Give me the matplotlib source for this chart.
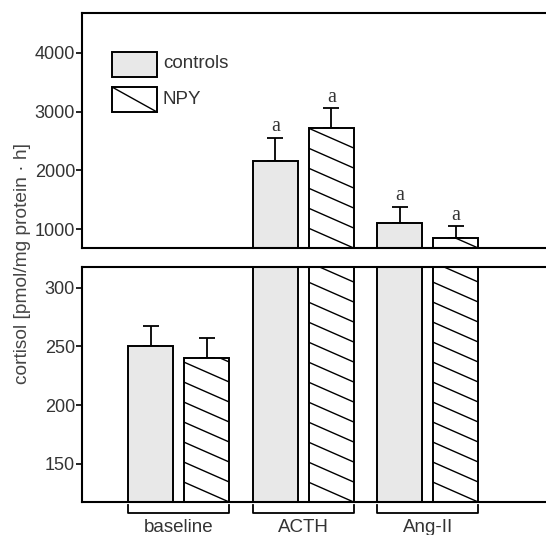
import matplotlib

matplotlib.use("Agg")

import matplotlib.pyplot as plt
import numpy as np
from matplotlib.patches import Rectangle
from matplotlib.lines import Line2D
from matplotlib.transforms import Bbox, IdentityTransform

GROUPS = ["baseline", "ACTH", "Ang-II"]
SERIES = ["controls", "NPY"]
MEAN_CONTROLS = [250, 2160, 1110]
ERR_CONTROLS = [17, 400, 270]
MEAN_NPY = [240, 2715, 850]
ERR_NPY = [17, 345, 200]
SIG_CONTROLS = ["", "a", "a"]
SIG_NPY = ["", "a", "a"]
UPPER_TICKS = [1000, 2000, 3000, 4000]
LOWER_TICKS = [150, 200, 250, 300]

DPI = 100
W, H = 546, 535
FILL = "#e8e8e8"
TXT = "#333333"

plt.rcParams.update({
    "font.family": ["Liberation Sans", "DejaVu Sans"],
    "font.size": 13,
    "axes.linewidth": 1.5,
})

fig = plt.figure(figsize=(W / DPI, H / DPI), dpi=DPI)
ax_up = fig.add_axes([82 / W, (H - 248) / H, (W - 82) / W, (248 - 13) / H])
ax_lo = fig.add_axes([82 / W, (H - 502) / H, (W - 82) / W, (502 - 267) / H])

x = np.arange(len(GROUPS))
off, width = 0.225, 0.36
xlim = (-0.777, 2.95)

ax_up.set_ylim(680, 4680)
ax_lo.set_ylim(117.6, 317.6)

bars = []
for ax in (ax_up, ax_lo):
    ax.set_xlim(*xlim)
    ax.bar(x - off, MEAN_CONTROLS, width, color=FILL, edgecolor="black", linewidth=1.4, zorder=2)
    bn = ax.bar(x + off, MEAN_NPY, width, color="white", edgecolor="black", linewidth=1.4, zorder=2)
    bars.append(bn)
    for xs, m, e in ((x - off, MEAN_CONTROLS, ERR_CONTROLS), (x + off, MEAN_NPY, ERR_NPY)):
        ax.errorbar(xs, m, yerr=[np.zeros(len(e)), e], fmt="none", ecolor="black",
                    elinewidth=1.3, capsize=5.5, capthick=1.3, zorder=1)
    ax.spines["right"].set_visible(False)
    ax.set_xticks([])
    ax.tick_params(axis="y", direction="out", length=4, width=1.2, colors="black",
                   labelcolor=TXT, labelsize=13, pad=1)

ax_up.set_yticks(UPPER_TICKS)
ax_lo.set_yticks(LOWER_TICKS)

# significance letters (upper panel)
for xs, m, e, s in ((x - off, MEAN_CONTROLS, ERR_CONTROLS, SIG_CONTROLS),
                    (x + off, MEAN_NPY, ERR_NPY, SIG_NPY)):
    for xi, mi, ei, si in zip(xs, m, e, s):
        if si:
            ax_up.annotate(si, (xi, mi + ei), xytext=(0, 1), textcoords="offset points",
                           ha="center", va="bottom", fontsize=14.5, color=TXT,
                           family=["Liberation Serif", "DejaVu Serif"])

# custom hatch: sloped lines, clipped to the visible part of each NPY bar
fig.canvas.draw()
for ax, bset in zip((ax_up, ax_lo), bars):
    abox = ax.get_window_extent()
    for patch in bset:
        pb = patch.get_window_extent()
        x0, x1 = pb.x0, pb.x1
        y0, y1 = max(pb.y0, abox.y0), min(pb.y1, abox.y1)
        if y1 <= y0:
            continue
        drop = 0.44 * (x1 - x0)
        k = 0
        while True:
            yl = y0 + drop + k * 20
            yr = yl - drop
            if yr > y1:
                break
            ln = Line2D([x0, x1], [yl, yr], transform=IdentityTransform(), color="black",
                        linewidth=1.0, zorder=3)
            ax.add_line(ln)
            ln.set_clip_path(None)
            ln.set_clip_box(Bbox.from_extents(x0, y0, x1, y1))
            k += 1

# group brackets and labels under lower panel
trans = ax_lo.get_xaxis_transform()
for xi, g in zip(x, GROUPS):
    xa, xb = xi - off - width / 2, xi + off + width / 2
    ax_lo.plot([xa, xa, xb, xb], [-0.013, -0.047, -0.047, -0.013], transform=trans,
               color="black", linewidth=1.3, clip_on=False)
    ax_lo.text(xi, -0.108, g, transform=trans, ha="center", va="center", fontsize=13.5, color=TXT)

# legend
def fig_rect(px, py, pw, ph):
    return [px / W, 1 - (py + ph) / H, pw / W, ph / H]

r = fig_rect(112, 52, 45, 25)
fig.add_artist(Rectangle((r[0], r[1]), r[2], r[3], transform=fig.transFigure,
                         facecolor=FILL, edgecolor="black", linewidth=1.4))
fig.text(163 / W, 1 - 64 / H, SERIES[0], ha="left", va="center", fontsize=13.5, color=TXT)
r = fig_rect(112, 87, 45, 25)
fig.add_artist(Rectangle((r[0], r[1]), r[2], r[3], transform=fig.transFigure,
                         facecolor="white", edgecolor="black", linewidth=1.4))
fig.add_artist(Line2D([r[0], r[0] + r[2]], [r[1] + r[3], r[1]], transform=fig.transFigure,
                      color="black", linewidth=1.0))
fig.text(163 / W, 1 - 99 / H, SERIES[1], ha="left", va="center", fontsize=13.5, color=TXT)

fig.text(23 / W, 1 - 264 / H, "cortisol [pmol/mg protein \u00b7 h]", rotation=90,
         ha="center", va="center", fontsize=13.8, color="#444444")

fig.savefig("out.png", dpi=DPI)
